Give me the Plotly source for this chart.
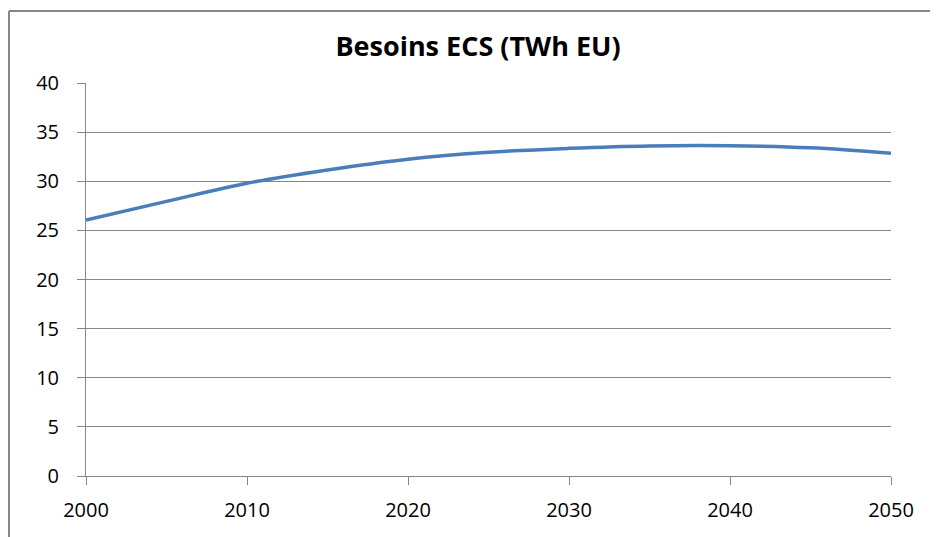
import plotly.graph_objects as go

years = [2000, 2005, 2010, 2015, 2020, 2025, 2030, 2035, 2040, 2045, 2050]
besoins = [26.05, 27.95, 29.8, 31.15, 32.25, 32.95, 33.35, 33.6, 33.62, 33.4, 32.85]

x_ticks = [2000, 2010, 2020, 2030, 2040, 2050]

# the page body adds an 8px offset, so positions are shifted back by 8
W, H = 938, 537
L, T = 78, 75
pw, ph = 805, 393
R, B = W - L - pw, H - T - ph

fig = go.Figure()
fig.add_trace(go.Scatter(
    x=years, y=besoins, mode="lines",
    line=dict(color="#4a7ebb", width=3.5, shape="spline", smoothing=1.0),
    showlegend=False,
))

# frame of the chart area (left and top edges are visible)
border = dict(color="#868686", width=2)
bx = (1 - L) / pw
by = 1 + (T - 3) / ph
fig.add_shape(type="line", xref="paper", yref="paper",
              x0=bx, x1=(W + 20 - L) / pw, y0=by, y1=by, line=border)
fig.add_shape(type="line", xref="paper", yref="paper",
              x0=bx, x1=bx, y0=by, y1=-(B + 20) / ph, line=border)

fig.update_layout(
    width=W, height=H,
    margin=dict(l=L, r=R, t=T, b=B),
    paper_bgcolor="white", plot_bgcolor="white",
    font=dict(family="Open Sans", size=20, color="#000000"),
    title=dict(text="<b>Besoins ECS (TWh EU)</b>", x=(478 - 8) / W, xanchor="center",
               y=1 - (47 - 8) / H, yanchor="middle",
               font=dict(family="Open Sans", size=27, color="#000000")),
    xaxis=dict(range=[2000, 2050], tickvals=x_ticks, showgrid=False,
               showline=True, linecolor="#868686", linewidth=1,
               ticks="outside", ticklen=8, tickcolor="#868686",
               ticklabelstandoff=8, zeroline=False),
    yaxis=dict(range=[0, 40], dtick=5, showgrid=True, gridcolor="#868686",
               gridwidth=1, showline=True, linecolor="#868686", linewidth=1,
               ticks="outside", ticklen=8, tickcolor="#868686",
               ticklabelstandoff=14, zeroline=False),
)

fig.write_html("out.html")
